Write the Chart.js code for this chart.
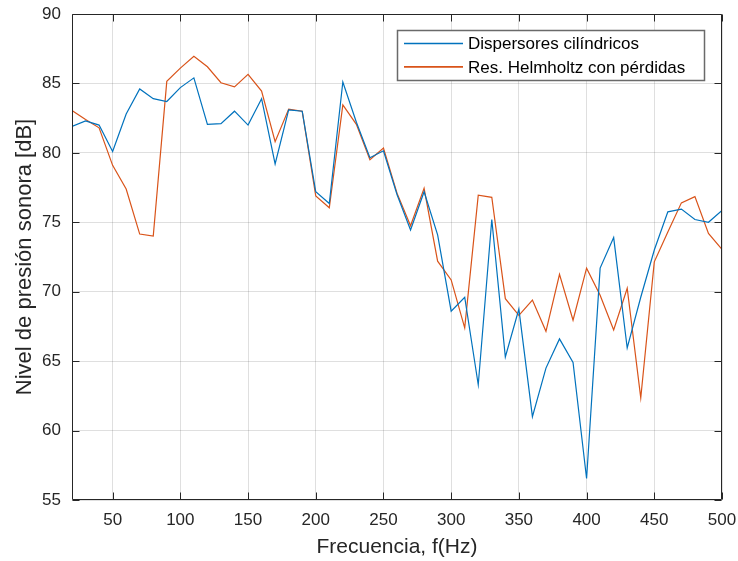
<!DOCTYPE html>
<html>
<head>
<meta charset="utf-8">
<title>Nivel de presión sonora</title>
<script src="https://cdn.jsdelivr.net/npm/chart.js@4.4.1/dist/chart.umd.min.js"></script>
<style>
  html, body { margin: 0; padding: 0; background: #ffffff; }
  canvas { display: block; }
</style>
</head>
<body>
<canvas id="chart" width="738" height="561"></canvas>
<script>
// Measured frequencies (Hz)
const frequencies = [20, 30, 40, 50, 60, 70, 80, 90, 100, 110, 120, 130, 140, 150, 160, 170, 180, 190, 200,
  210, 220, 230, 240, 250, 260, 270, 280, 290, 300, 310, 320, 330, 340, 350, 360, 370, 380, 390, 400,
  410, 420, 430, 440, 450, 460, 470, 480, 490, 500];

// Sound pressure level with cylindrical diffusers (dB)
const dispersores = [81.9, 82.3, 82.0, 80.1, 82.8, 84.6, 83.9, 83.7, 84.7, 85.4, 82.05, 82.1, 83.0, 82.0, 83.9,
  79.2, 83.1, 83.0, 77.2, 76.35, 85.1, 82.2, 79.65, 80.15, 77.0, 74.45, 77.2, 74.1, 68.6, 69.6, 63.3,
  75.2, 65.3, 68.75, 61.0, 64.5, 66.6, 64.9, 56.55, 71.7, 73.9, 65.95, 69.6, 73.0, 75.75, 75.95, 75.2,
  75.0, 75.85];

// Sound pressure level with lossy Helmholtz resonators (dB)
const helmholtz = [83.05, 82.4, 81.8, 79.1, 77.4, 74.15, 74.0, 85.15, 86.1, 86.95, 86.2, 85.05, 84.75, 85.65,
  84.45, 80.8, 83.15, 83.0, 76.9, 76.05, 83.45, 82.05, 79.5, 80.35, 77.1, 74.75, 77.45, 72.2, 70.85, 67.4,
  76.95, 76.8, 69.5, 68.3, 69.4, 67.15, 71.25, 67.95, 71.7, 69.75, 67.25, 70.25, 62.35, 72.15, 74.3,
  76.4, 76.85, 74.2, 73.05];

const seriesNames = ['Dispersores cilíndricos', 'Res. Helmholtz con pérdidas'];
const xTickValues = [50, 100, 150, 200, 250, 300, 350, 400, 450, 500];
const yTickValues = [55, 60, 65, 70, 75, 80, 85, 90];

const BLUE = '#0072BD';
const ORANGE = '#D95319';
const AXIS = '#262626';
const FONT = "'Liberation Sans', Arial, Helvetica, sans-serif";

const toPoints = (ys) => frequencies.map((f, i) => ({ x: f, y: ys[i] }));

// Full box around the plot with inward tick marks on all four sides
const axesBox = {
  id: 'axesBox',
  afterDraw(chart) {
    const { ctx, chartArea: a, scales } = chart;
    const L = Math.round(a.left) + 0.5, R = Math.round(a.right) - 0.5;
    const T = Math.round(a.top) + 0.5, B = Math.round(a.bottom) - 0.5;
    const len = 7;
    ctx.save();
    ctx.strokeStyle = AXIS;
    ctx.lineWidth = 1;
    ctx.beginPath();
    ctx.rect(L, T, R - L, B - T);
    scales.x.ticks.forEach(t => {
      const px = Math.round(scales.x.getPixelForValue(t.value)) + 0.5;
      ctx.moveTo(px, B); ctx.lineTo(px, B - len);
      ctx.moveTo(px, T); ctx.lineTo(px, T + len);
    });
    scales.y.ticks.forEach(t => {
      const py = Math.round(scales.y.getPixelForValue(t.value)) + 0.5;
      ctx.moveTo(L, py); ctx.lineTo(L + len, py);
      ctx.moveTo(R, py); ctx.lineTo(R - len, py);
    });
    ctx.stroke();
    ctx.restore();
  }
};

// Boxed legend in the upper right of the plot
const boxedLegend = {
  id: 'boxedLegend',
  afterDraw(chart) {
    const { ctx } = chart;
    const x0 = 397.5, y0 = 30.5, w = 307, h = 50;
    ctx.save();
    ctx.fillStyle = '#ffffff';
    ctx.fillRect(x0, y0, w, h);
    ctx.strokeStyle = '#6a6a6a';
    ctx.lineWidth = 1.5;
    ctx.strokeRect(x0, y0, w, h);
    ctx.font = '17px ' + FONT;
    ctx.textBaseline = 'middle';
    ctx.textAlign = 'left';
    chart.data.datasets.forEach((ds, i) => {
      const ly = y0 + 13 + i * 23.4;
      ctx.strokeStyle = ds.borderColor;
      ctx.lineWidth = 1.6;
      ctx.beginPath();
      ctx.moveTo(404, ly);
      ctx.lineTo(463, ly);
      ctx.stroke();
      ctx.fillStyle = '#000000';
      ctx.fillText(ds.label, 468, ly + 1);
    });
    ctx.restore();
  }
};

new Chart(document.getElementById('chart'), {
  type: 'line',
  data: {
    datasets: [
      { label: seriesNames[0], data: toPoints(dispersores), borderColor: BLUE, backgroundColor: BLUE,
        borderWidth: 1.2, pointRadius: 0, tension: 0, fill: false },
      { label: seriesNames[1], data: toPoints(helmholtz), borderColor: ORANGE, backgroundColor: ORANGE,
        borderWidth: 1.2, pointRadius: 0, tension: 0, fill: false }
    ]
  },
  options: {
    responsive: false,
    animation: false,
    devicePixelRatio: 1,
    layout: { padding: { left: 0, right: 16, top: 14, bottom: 0 } },
    plugins: {
      legend: { display: false },
      tooltip: { enabled: false }
    },
    scales: {
      x: {
        type: 'linear',
        min: 20,
        max: 500,
        afterBuildTicks: (scale) => { scale.ticks = xTickValues.map(v => ({ value: v })); },
        afterFit: (scale) => { scale.height = 61; scale.paddingLeft = 0; scale.paddingRight = 0; },
        grid: { color: 'rgba(38,38,38,0.15)', lineWidth: 1, drawTicks: false },
        border: { display: false },
        ticks: { color: AXIS, font: { family: FONT, size: 17 }, padding: 10, maxRotation: 0, autoSkip: false },
        title: { display: true, text: 'Frecuencia, f(Hz)', color: AXIS,
                 font: { family: FONT, size: 21 }, padding: { top: 0, bottom: 1 } }
      },
      y: {
        type: 'linear',
        min: 55,
        max: 90,
        afterBuildTicks: (scale) => { scale.ticks = yTickValues.map(v => ({ value: v })); },
        afterFit: (scale) => { scale.width = 72; scale.paddingTop = 0; scale.paddingBottom = 0; },
        grid: { color: 'rgba(38,38,38,0.15)', lineWidth: 1, drawTicks: false },
        border: { display: false },
        ticks: { color: AXIS, font: { family: FONT, size: 17 }, padding: 11, autoSkip: false },
        title: { display: true, text: 'Nivel de presión sonora [dB]', color: AXIS,
                 font: { family: FONT, size: 22 }, padding: { top: 12, bottom: 0 } }
      }
    }
  },
  plugins: [axesBox, boxedLegend]
});
</script>
</body>
</html>
